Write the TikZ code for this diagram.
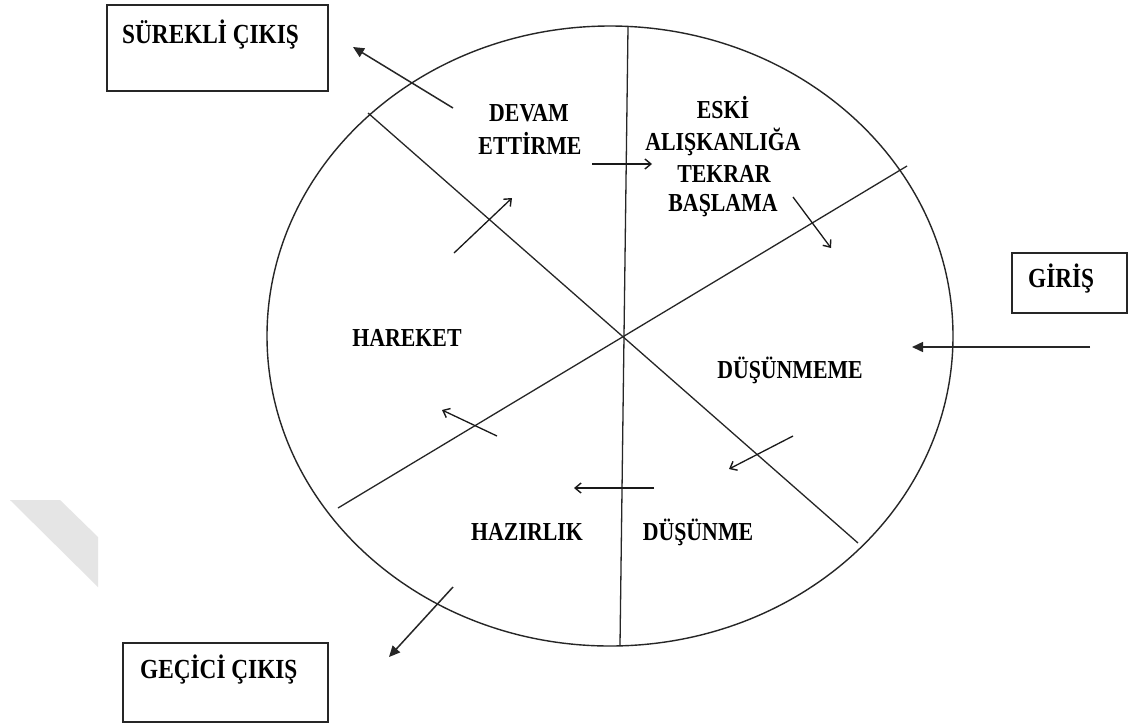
\documentclass[tikz,border=0pt]{standalone}
\usepackage{fontspec}
\setmainfont{Liberation Serif}
\usetikzlibrary{arrows.meta}
\newcommand{\tallbox}[1]{\scalebox{0.97}[1.15]{#1}}
\begin{document}
\begin{tikzpicture}[x=1pt,y=-1pt,
  lbl/.style={font=\fontsize{22.5}{26}\selectfont\bfseries, inner sep=0pt, anchor=base},
  boxlbl/.style={font=\fontsize{24}{28}\selectfont\bfseries, inner sep=0pt, anchor=base west},
  frame/.style={draw=black!85, line width=1.3pt},
  rim/.style={draw=black!85, line width=1.4pt},
  spoke/.style={draw=black!85, line width=1.3pt},
  inarrow/.style={draw=black!90, line width=1.3pt, -{Straight Barb[length=6pt,width=10pt,line width=1.4pt]}},
  outarrow/.style={draw=black!85, line width=1.5pt, -{Triangle[length=11pt,width=10pt]}}]
\useasboundingbox (0,0) rectangle (1129,724);
\fill[white] (0,0) rectangle (1129,724);
% faint watermark
\fill[black!10] (10,500) -- (60,500) -- (98,537) -- (98,587) -- cycle;

% circle
\draw[rim] (610,336) ellipse [x radius=343, y radius=310];

% spokes
\coordinate (ctr) at (623,336);
\coordinate (sTop) at (628,27);
\coordinate (sBot) at (620,645);
\coordinate (sTL) at (368,113);
\coordinate (sBR) at (858,543);
\coordinate (sTR) at (907,166);
\coordinate (sBL) at (338,508);
\draw[spoke] (sTop) -- (sBot);
\draw[spoke] (sTL) -- (sBR);
\draw[spoke] (sTR) -- (sBL);

% boxes
\node[frame, minimum width=221pt, minimum height=86pt, inner sep=0pt] (bSur) at (217.5,48) {};
\node[frame, minimum width=115pt, minimum height=60pt, inner sep=0pt] (bGir) at (1069.5,283) {};
\node[frame, minimum width=205pt, minimum height=79pt, inner sep=0pt] (bGec) at (225.5,682.5) {};
\node[boxlbl] (tSur) at (122,43) {\tallbox{SÜREKLİ ÇIKIŞ}};
\node[boxlbl] (tGir) at (1028,287) {\tallbox{GİRİŞ}};
\node[boxlbl] (tGec) at (140,678) {\tallbox{GEÇİCİ ÇIKIŞ}};

% inner labels
\node[lbl] (devam) at (529,121) {\tallbox{DEVAM}};
\node[lbl] (ettirme) at (530,154) {\tallbox{ETTİRME}};
\node[lbl] (eski) at (723,118) {\tallbox{ESKİ}};
\node[lbl] (alis) at (723,150) {\tallbox{ALIŞKANLIĞA}};
\node[lbl] (tekrar) at (724,182) {\tallbox{TEKRAR}};
\node[lbl] (basla) at (723,211) {\tallbox{BAŞLAMA}};
\node[lbl] (hareket) at (407,346) {\tallbox{HAREKET}};
\node[lbl] (dusunmeme) at (790,378) {\tallbox{DÜŞÜNMEME}};
\node[lbl] (hazirlik) at (527,540) {\tallbox{HAZIRLIK}};
\node[lbl] (dusunme) at (698,540) {\tallbox{DÜŞÜNME}};

% arrow end points
\coordinate (a1s) at (453,108); \coordinate (a1e) at (353,47);
\coordinate (a2s) at (592,164); \coordinate (a2e) at (652,164);
\coordinate (a3s) at (793,197); \coordinate (a3e) at (831,248);
\coordinate (a4s) at (1090,347); \coordinate (a4e) at (912,347);
\coordinate (a5s) at (793,436); \coordinate (a5e) at (729,469);
\coordinate (a6s) at (654,488); \coordinate (a6e) at (574,488);
\coordinate (a7s) at (497,436); \coordinate (a7e) at (442,410);
\coordinate (a8s) at (454,253); \coordinate (a8e) at (512,198);
\coordinate (a9s) at (453,587); \coordinate (a9e) at (389,657);

\draw[outarrow] (a1s) -- (a1e);
\draw[inarrow] (a2s) -- (a2e);
\draw[inarrow] (a3s) -- (a3e);
\draw[outarrow] (a4s) -- (a4e);
\draw[inarrow] (a5s) -- (a5e);
\draw[inarrow] (a6s) -- (a6e);
\draw[inarrow] (a7s) -- (a7e);
\draw[inarrow] (a8s) -- (a8e);
\draw[outarrow] (a9s) -- (a9e);
\end{tikzpicture}
\end{document}
